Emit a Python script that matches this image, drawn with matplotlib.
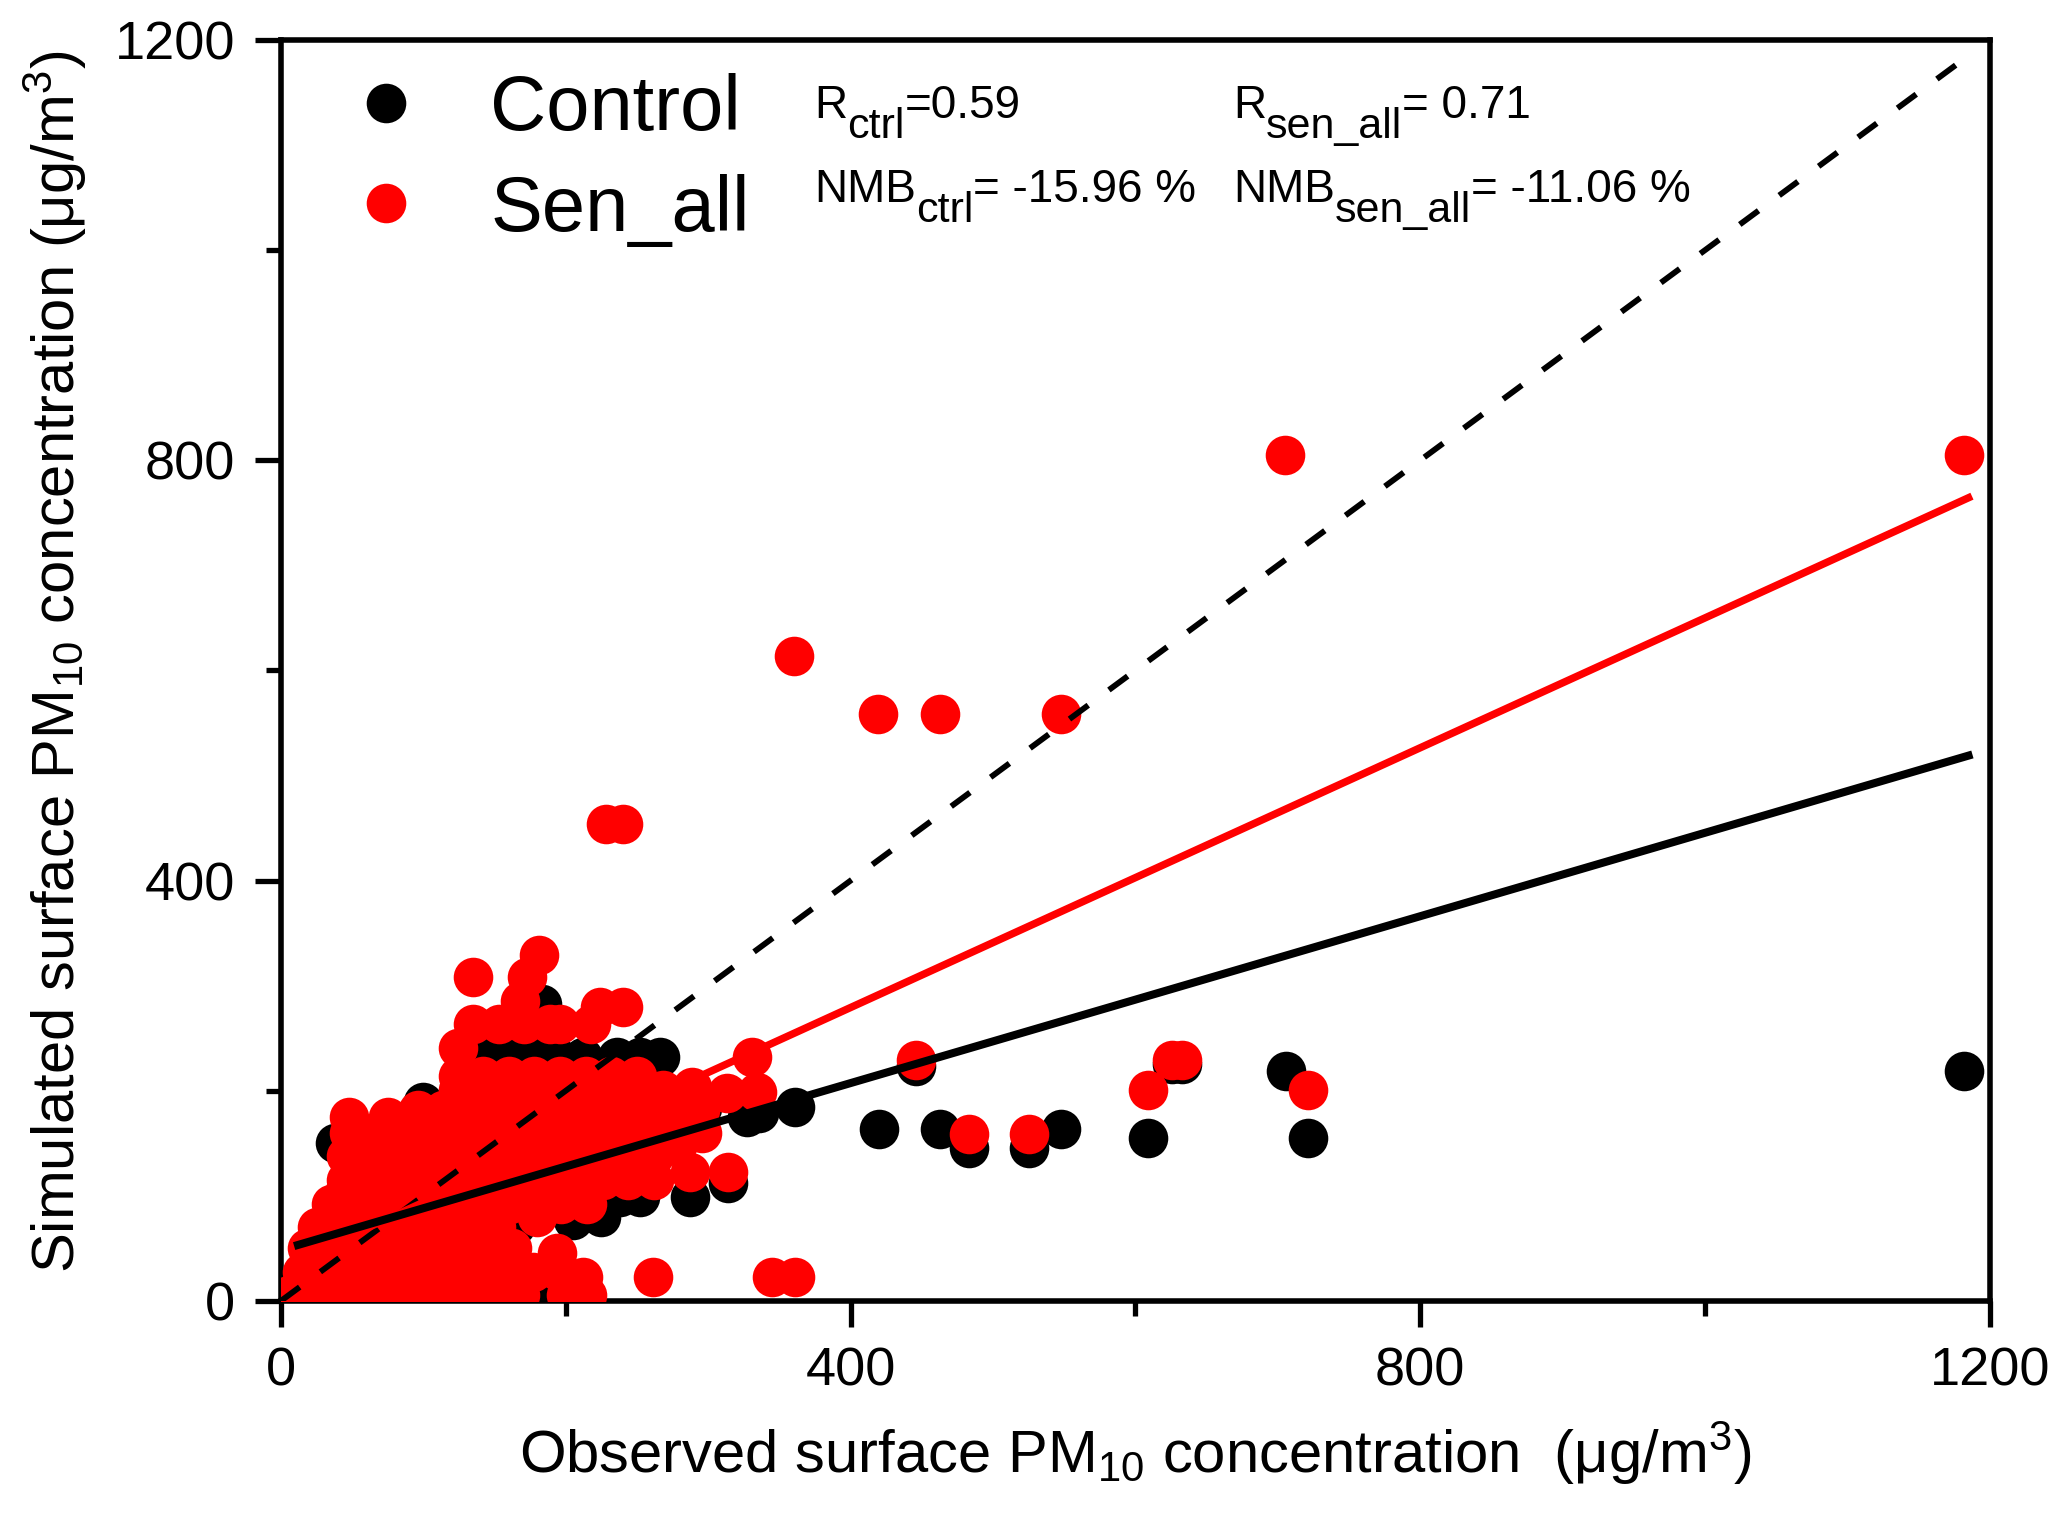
import matplotlib
matplotlib.use("Agg")
import matplotlib.pyplot as plt
from matplotlib.ticker import MultipleLocator
import numpy as np

# ── Style ──────────────────────────────────────────────────────────────────
plt.rcParams.update({
    "font.family": ["Liberation Sans", "DejaVu Sans"],
    "mathtext.fontset": "custom",
    "mathtext.rm": "Liberation Sans",
    "mathtext.it": "Liberation Sans:italic",
    "mathtext.default": "regular",
})

# ── Data ───────────────────────────────────────────────────────────────────
# Control run: (observed, simulated)
ctrl_points = [
    (181, 3), (38, 150), (100, 189), (183, 283), (60, 150), (80, 120),
    (140, 232), (158, 232), (176, 232), (194, 232), (212, 232), (236, 232),
    (252, 232), (266, 232), (165, 72), (205, 77), (225, 80), (238, 99),
    (252, 99), (287, 99), (314, 112), (280, 188), (296, 184), (327, 175),
    (336, 179), (361, 185), (20, 20), (45, 40), (70, 60), (95, 80),
    (120, 100), (145, 120), (170, 140), (195, 160), (220, 180), (110, 30),
    (140, 50), (60, 95), (90, 140), (130, 170), (160, 200), (200, 130),
    (446, 224), (420, 164), (463, 164), (483, 146), (525, 146), (548, 164),
    (609, 155), (626, 225), (633, 225), (706, 219), (721, 155), (1182, 219),
]
# Sen_all run: (observed, simulated)
sen_points = [
    # dense cluster
    (6, 6), (24, 6), (42, 6), (60, 6), (78, 6), (96, 6), (114, 6), (132, 6),
    (150, 6), (168, 6), (200, 6), (215, 6),
    (15, 28), (33, 28), (51, 28), (69, 28), (87, 28), (105, 28), (123, 28),
    (141, 28), (159, 28), (177, 28), (195, 28),
    (18, 50), (36, 50), (54, 50), (72, 50), (90, 50), (108, 50), (126, 50),
    (144, 50), (162, 50), (194, 46),
    (25, 70), (43, 70), (61, 70), (79, 70), (97, 70), (115, 70), (133, 70),
    (151, 70), (180, 80),
    (35, 92), (53, 92), (71, 92), (89, 92), (107, 92), (125, 92), (143, 92),
    (161, 92), (179, 92), (197, 92), (215, 92), (44, 103),
    (46, 115), (64, 115), (82, 115), (100, 115), (118, 115), (136, 115),
    (154, 115), (172, 115), (190, 115), (208, 115), (226, 115), (244, 115),
    (262, 115), (287, 123), (314, 123),
    (46, 138), (64, 138), (82, 138), (100, 138), (118, 138), (136, 138),
    (154, 138), (172, 138), (190, 138), (208, 138), (226, 138), (244, 138),
    (262, 138), (278, 147),
    (48, 160), (66, 160), (84, 160), (102, 160), (120, 160), (138, 160),
    (156, 160), (174, 160), (192, 160), (210, 160), (228, 160), (246, 160),
    (264, 160), (282, 160), (296, 160), (48, 175), (75, 175),
    (96, 182), (114, 182), (132, 182), (150, 182), (168, 182), (186, 182),
    (204, 182), (222, 182), (240, 182), (258, 182), (276, 182), (294, 182),
    (124, 201), (142, 201), (160, 201), (178, 201), (196, 201), (214, 201),
    (232, 201), (250, 201), (268, 201), (289, 204), (313, 198), (334, 199),
    (124, 214), (142, 214), (160, 214), (178, 214), (196, 214), (214, 214),
    (232, 214), (250, 214), (331, 232), (124, 241),
    (135, 264), (153, 264), (171, 264), (189, 264), (196, 264), (218, 264),
    (168, 285), (224, 280), (240, 280), (135, 308), (173, 308), (181, 329),
    # isolated points
    (212, 23), (261, 23), (345, 23), (361, 23),
    (228, 454), (240, 454), (360, 614), (419, 559), (463, 559), (548, 559),
    (705, 805), (1182, 805), (446, 229), (483, 159), (525, 159), (609, 201),
    (626, 229), (633, 229), (721, 201),
]
ctrl_obs, ctrl_sim = zip(*ctrl_points)
sen_obs, sen_sim = zip(*sen_points)

# linear fits as drawn in the figure
ctrl_slope, ctrl_icpt = 0.397, 48.5
sen_slope, sen_icpt = 0.618, 32.0
fit_range = [12, 1185]
one_to_one = [0, 1185]

x_ticks = [0, 400, 800, 1200]
y_ticks = [0, 400, 800, 1200]

# ── Figure ─────────────────────────────────────────────────────────────────
fig = plt.figure(figsize=(20.67, 15.18), dpi=100)
ax = fig.add_axes([0.1359, 0.1430, 0.8268, 0.8307])

ms = 28.5
ax.plot(ctrl_obs, ctrl_sim, "o", ms=ms, mfc="black", mec="none",
        label="Control", zorder=2)
ax.plot(sen_obs, sen_sim, "o", ms=ms, mfc="#FF0000", mec="none",
        label="Sen_all", zorder=3)

fx = np.array(fit_range, dtype=float)
ax.plot(one_to_one, one_to_one, color="black", lw=4.2, dashes=(4.0, 4.4),
        zorder=4)
ax.plot(fx, sen_slope * fx + sen_icpt, color="#FF0000", lw=5.4, zorder=4)
ax.plot(fx, ctrl_slope * fx + ctrl_icpt, color="black", lw=5.8, zorder=5)

ax.set_xlim(0, 1200)
ax.set_ylim(0, 1200)
ax.set_xticks(x_ticks)
ax.set_yticks(y_ticks)
ax.xaxis.set_minor_locator(MultipleLocator(200))
ax.yaxis.set_minor_locator(MultipleLocator(200))
ax.tick_params(which="both", direction="out", top=False, right=False,
               labelsize=39, width=3.8, pad=14)
ax.tick_params(which="major", length=19)
ax.tick_params(which="minor", length=11)
for sp in ax.spines.values():
    sp.set_linewidth(4)

ax.set_xlabel("Observed surface PM$_{10}$ concentration  (μg/m$^{3}$)",
              fontsize=43)
ax.set_ylabel("Simulated surface PM$_{10}$ concentration (μg/m$^{3}$)",
              fontsize=43)
ax.xaxis.set_label_coords(0.5, -0.094)
ax.yaxis.set_label_coords(-0.112, 0.507)

leg = ax.legend(loc="upper left", bbox_to_anchor=(0.0433, 0.9734),
                frameon=False, fontsize=56, numpoints=1, borderpad=0,
                borderaxespad=0, handlelength=0.8, handletextpad=0.94,
                labelspacing=0.35)

# ── Statistics text with subscripts ────────────────────────────────────────
def sub_text(x, y, main, sub, rest, size=33):
    t1 = fig.text(x, y, main, fontsize=size, va="baseline")
    t2 = ax.annotate(sub, xy=(1, 0), xycoords=t1, xytext=(0, -14),
                     textcoords="offset points", fontsize=size - 2,
                     va="bottom", annotation_clip=False)
    ax.annotate(rest, xy=(1, 0), xycoords=t2, xytext=(0, 14),
                textcoords="offset points", fontsize=size, va="bottom",
                annotation_clip=False)

sub_text(0.3938, 0.9223, "R", "ctrl", "=0.59")
sub_text(0.5965, 0.9223, "R", "sen_all", "= 0.71")
sub_text(0.3938, 0.8669, "NMB", "ctrl", "= -15.96 %")
sub_text(0.5965, 0.8669, "NMB", "sen_all", "= -11.06 %")

fig.savefig("out.png", dpi=100)
